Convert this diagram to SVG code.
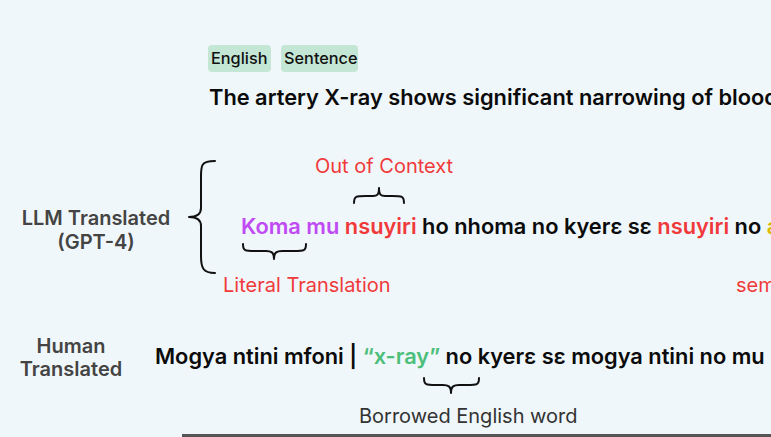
<svg xmlns="http://www.w3.org/2000/svg" width="771" height="437" viewBox="0 0 771 437">
<style>
text{font-family:Inter,"Noto Sans",sans-serif}
.tag{fill:#c4e6d5}
.tagt{font-size:16.3px;font-weight:500;fill:#111}
.main{font-size:21.8px;font-weight:600;fill:#0b0b0b}
.lbl{font-size:20px;font-weight:600;fill:#444;text-anchor:middle}
.red{fill:#f03a3a}
.note{font-size:20px;font-weight:400}
.brace{fill:none;stroke:#111;stroke-width:2;stroke-linecap:round;stroke-linejoin:round}
</style>
<rect width="771" height="437" fill="#f0f7fa"/>
<g id="english">
<rect class="tag" x="208" y="45" width="63" height="27" rx="4"/>
<text class="tagt" x="211" y="64">English</text>
<rect class="tag" x="281" y="45" width="77" height="27" rx="4"/>
<text class="tagt" x="284" y="64">Sentence</text>
<text class="main" x="209" y="105">The artery X-ray shows significant narrowing of blood</text>
</g>
<g id="llm">
<text class="lbl" x="96" y="225">LLM Translated</text>
<text class="lbl" x="96" y="249">(GPT-4)</text>
<path class="brace" d="M215,161 C200,161 201,166 201,180 L201,208 C201,214 197,217 189,217 C197,217 201,220 201,226 L201,256 C201,268 203,273 215,273" stroke-width="3"/>
<text class="note red" x="315" y="173">Out of Context</text>
<path class="brace" d="M354,203 C354,196 356,196 366,196 L373,196 C377,196 379,195 379,188 C379,195 381,196 385,196 L392,196 C402,196 404,196 404,203"/>
<text class="main" x="241" y="234"><tspan fill="#c04bf5">Koma mu</tspan> <tspan class="red">nsuyiri</tspan> ho nhoma no kyerɛ sɛ <tspan class="red">nsuyiri</tspan> no <tspan fill="#e0b800">a</tspan></text>
<path class="brace" d="M243,244 C243,251 245,251 255,251 L266,251 C271,251 274,252 274,259 C274,252 277,251 282,251 L294,251 C304,251 306,251 306,244"/>
<text class="note red" x="223" y="292">Literal Translation</text>
<text class="note red" x="736" y="292">sem</text>
</g>
<g id="human">
<text class="lbl" x="71" y="353">Human</text>
<text class="lbl" x="71" y="376">Translated</text>
<text class="main" x="155" y="364">Mogya ntini mfoni | <tspan fill="#4cbf7a">“x-ray”</tspan> no kyerɛ sɛ mogya ntini no mu</text>
<path class="brace" d="M424,378 C424,385 426,385 436,385 L443,385 C448,385 451,386 451,393 C451,386 454,385 459,385 L467,385 C477,385 479,385 479,378"/>
<text class="note" x="359" y="423" fill="#333">Borrowed English word</text>
</g>
<g id="connectors">
<line x1="182" y1="435.5" x2="771" y2="435.5" stroke="#555" stroke-width="3"/>
</g>
</svg>
